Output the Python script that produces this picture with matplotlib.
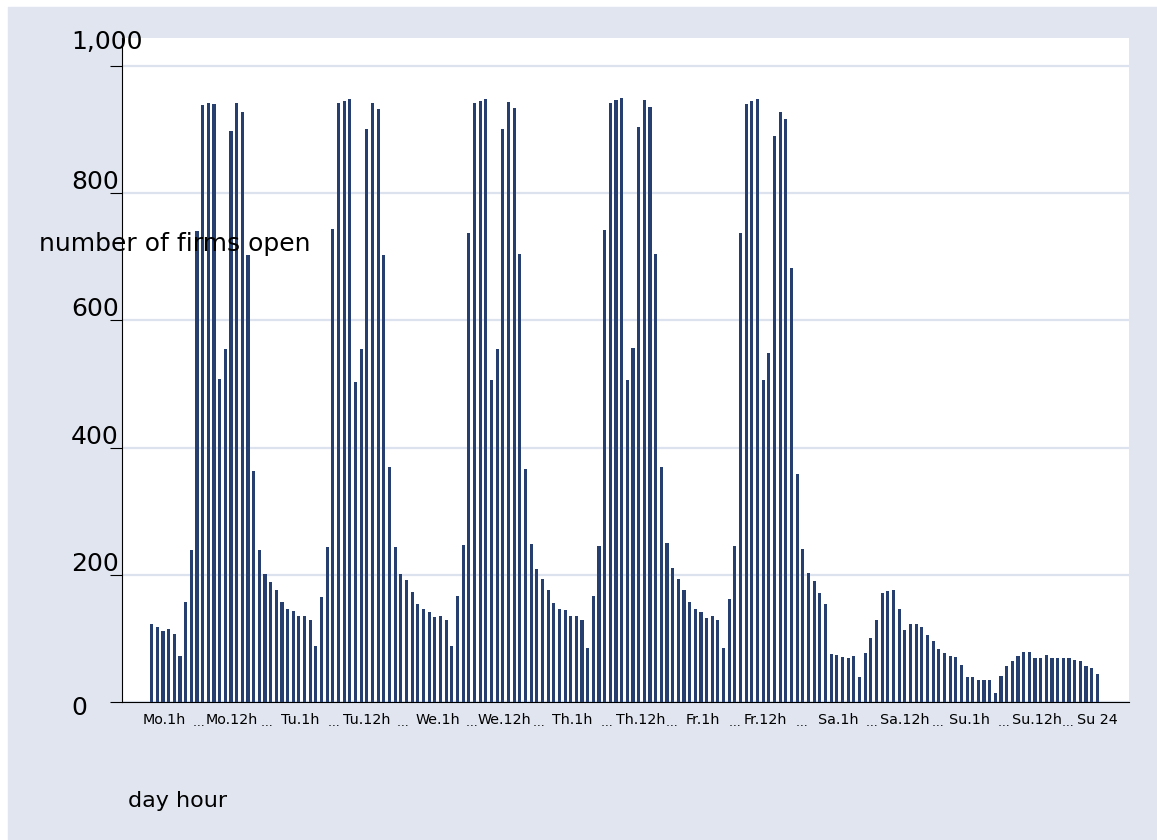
import numpy as np
import matplotlib.pyplot as plt
from matplotlib import transforms
from matplotlib.patches import Rectangle

# number of firms open, one value per hour of the week (hour 1..24 per day)
mon = [123, 119, 112, 115, 108, 72, 157, 239, 740, 938, 941, 940,
       508, 555, 897, 941, 928, 702, 364, 239, 202, 189, 176, 157]
tue = [146, 144, 136, 136, 129, 88, 166, 244, 743, 941, 945, 948,
       503, 555, 900, 942, 932, 702, 369, 244, 202, 192, 173, 155]
wed = [147, 142, 134, 135, 129, 88, 167, 247, 738, 941, 945, 948,
       506, 555, 900, 943, 933, 705, 367, 249, 210, 194, 176, 156]
thu = [147, 145, 135, 135, 129, 86, 167, 245, 742, 941, 946, 949,
       507, 556, 904, 946, 936, 705, 370, 250, 211, 194, 177, 157]
fri = [147, 142, 133, 135, 129, 86, 163, 245, 738, 940, 944, 948,
       506, 549, 889, 928, 917, 682, 358, 241, 203, 190, 172, 155]
sat = [76, 75, 71, 70, 72, 40, 78, 101, 129, 171, 175, 177,
       147, 113, 123, 123, 119, 105, 96, 83, 77, 72, 71, 58]
sun = [40, 40, 35, 35, 35, 15, 41, 57, 65, 73, 79, 79,
       69, 70, 74, 70, 70, 70, 69, 66, 65, 57, 54, 45]

firms_open = np.concatenate([mon, tue, wed, thu, fri, sat, sun])
hour_index = np.arange(len(firms_open))

# x labels (Stata thinned value labels) and where they sit
x_tick_pos = [2.3, 14.2, 26.2, 38.0, 50.6, 62.2, 74.3, 86.3, 97.3,
              108.4, 121.2, 133.0, 144.5, 156.3, 167]
x_tick_labels = ['Mo.1h', 'Mo.12h', 'Tu.1h', 'Tu.12h', 'We.1h', 'We.12h',
                 'Th.1h', 'Th.12h', 'Fr.1h', 'Fr.12h', 'Sa.1h', 'Sa.12h',
                 'Su.1h', 'Su.12h', 'Su 24']
y_ticks = [0, 200, 400, 600, 800, 1000]
y_tick_labels = ['0', '200', '400', '600', '800', '1,000']

bar_color = '#273f6f'
bg_color = '#e0e5f0'
grid_color = '#dde3ee'

W, H = 1157, 840
fig = plt.figure(figsize=(W / 100, H / 100), dpi=100, facecolor='white')
fig.add_artist(Rectangle((8 / W, 0), 1 - 8 / W, 1 - 7 / H,
                         transform=fig.transFigure, color=bg_color, zorder=-1))

ax = fig.add_axes([122 / W, (H - 702.3) / H, (1129 - 122) / W, (702.3 - 37.5) / H])
ax.set_facecolor('white')

ax.bar(hour_index, firms_open, width=0.55, color=bar_color, zorder=3)

ax.set_xlim(-5.25, 172.6)
ax.set_ylim(0, 1044.5)

# y axis: ticks + gridlines, labels drawn by hand (Stata puts them above the ticks)
ax.set_yticks(y_ticks)
ax.set_yticklabels([])
ax.tick_params(axis='y', length=8.6, width=0.8, color='black')
ax.yaxis.grid(True, color=grid_color, lw=1.6)
ax.set_axisbelow(True)

label_shift = [-8.9, 2.9, 2.9, 2.9, 3.1, 12.0]   # points, baseline vs tick
base = transforms.blended_transform_factory(fig.transFigure, ax.transData)
for val, txt, dy in zip(y_ticks, y_tick_labels, label_shift):
    tr = transforms.offset_copy(base, fig=fig, y=dy, units='points')
    ax.text(71 / W, val, txt, transform=tr, ha='left', va='baseline',
            fontsize=18, color='black', clip_on=False)

# x axis labels with the dotted fillers between them
ax.set_xticks(x_tick_pos, x_tick_labels, fontsize=10.3)
mid = [(a + b) / 2 for a, b in zip(x_tick_pos[:-1], x_tick_pos[1:])]
ax.set_xticks(mid, ['\u2026'] * len(mid), minor=True, fontsize=8.5)
ax.tick_params(axis='x', which='major', length=0, pad=8)
ax.tick_params(axis='x', which='minor', length=0, pad=10)

for side in ['top', 'right']:
    ax.spines[side].set_visible(False)
for side in ['left', 'bottom']:
    ax.spines[side].set_color('black')
    ax.spines[side].set_linewidth(0.8)

fig.text(39.3 / W, 1 - 250.7 / H, 'number of firms open', fontsize=18,
         ha='left', va='baseline')
fig.text(128.3 / W, 1 - 806.7 / H, 'day hour', fontsize=16,
         ha='left', va='baseline')

fig.savefig('out.png', dpi=100, facecolor=fig.get_facecolor())
